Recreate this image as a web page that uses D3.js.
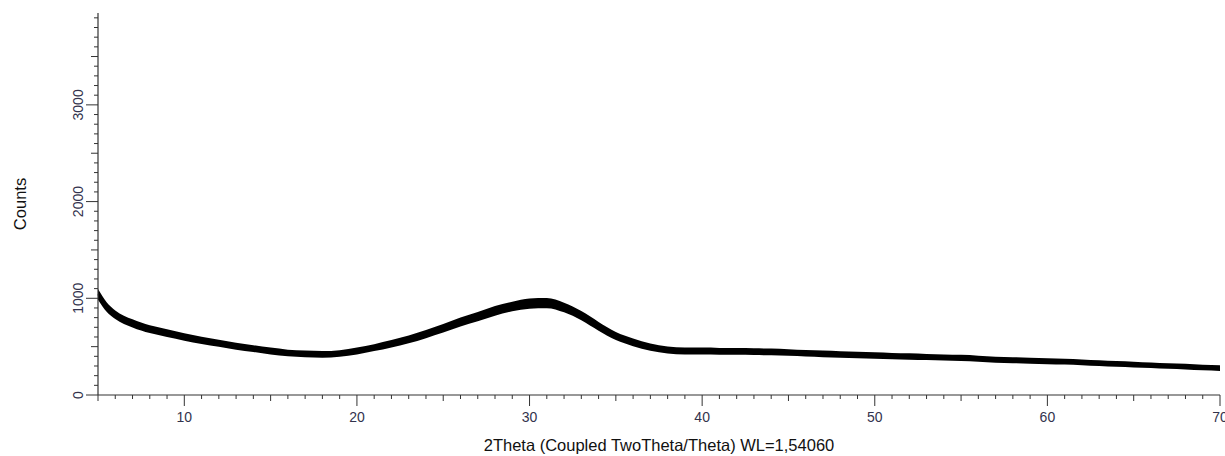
<!DOCTYPE html>
<html lang="en">
<head>
    <meta charset="UTF-8">
    <title>XRD pattern</title>
    <script src="https://d3js.org/d3.v7.min.js"></script>
    <style>
        body {
            margin: 0;
            background: #ffffff;
            font-family: 'Liberation Sans', Arial, sans-serif;
        }
        .tick-label { fill: #33334d; font-size: 14px; }
        .axis-title { fill: #111111; font-size: 16.5px; }
    </style>
</head>
<body>
    <svg id="chart" width="1225" height="456"></svg>

    <script>
        // 2theta positions (degrees)
        const theta = [5, 5.5, 6, 7, 8, 9, 10, 11, 12, 13, 14, 15, 16, 17, 18, 19, 20,
            21, 22, 23, 24, 25, 26, 27, 28, 29, 30, 31, 32, 33, 34, 35, 36, 37, 38, 39, 40,
            41, 42, 43, 44, 45, 46, 47, 48, 49, 50, 51, 52, 53, 54, 55, 56, 57, 58, 59, 60,
            61, 62, 63, 64, 65, 66, 67, 68, 69, 70];

        // mean counts along the trace
        const counts = [1040, 910, 830, 740, 680, 640, 600, 565, 535, 505, 480, 455, 435, 425, 420, 430, 455,
            490, 530, 575, 630, 690, 755, 810, 870, 915, 945, 950, 905, 820, 710, 610, 545, 495, 465, 455, 455,
            452, 450, 448, 445, 440, 432, 425, 418, 413, 408, 402, 398, 393, 388, 383, 375, 365, 360, 355, 350,
            345, 338, 330, 322, 315, 308, 300, 293, 285, 278];

        // half width of the noise band (counts)
        const noise = [55, 50, 45, 42, 40, 40, 38, 38, 36, 36, 35, 35, 34, 34, 34, 34, 35,
            36, 38, 40, 42, 44, 46, 48, 50, 50, 52, 52, 50, 48, 46, 42, 40, 38, 36, 35, 35,
            35, 35, 35, 35, 34, 34, 34, 34, 33, 33, 33, 33, 32, 32, 32, 32, 31, 31, 31, 31,
            30, 30, 30, 30, 30, 29, 29, 29, 29, 29];

        const xMajor = [10, 20, 30, 40, 50, 60, 70];
        const yMajor = [0, 1000, 2000, 3000];

        const svg = d3.select("#chart");

        const x = d3.scaleLinear().domain([5, 70]).range([98, 1220]);
        const y = d3.scaleLinear().domain([0, 3950]).range([395, 13]);

        const data = theta.map((t, i) => ({ t: t, c: counts[i], n: noise[i] }));

        // noise band
        const band = d3.area()
            .x(d => x(d.t))
            .y0(d => y(d.c - d.n))
            .y1(d => y(d.c + d.n))
            .curve(d3.curveMonotoneX);

        svg.append("path")
            .datum(data)
            .attr("d", band)
            .attr("fill", "#000");

        const line = d3.line()
            .x(d => x(d.t))
            .y(d => y(d.c))
            .curve(d3.curveMonotoneX);

        svg.append("path")
            .datum(data)
            .attr("d", line)
            .attr("fill", "none")
            .attr("stroke", "#000")
            .attr("stroke-width", 1.5);

        // x axis
        const xg = svg.append("g");
        xg.append("line")
            .attr("x1", x(5)).attr("x2", x(70))
            .attr("y1", y(0)).attr("y2", y(0))
            .attr("stroke", "#333").attr("stroke-width", 1.2);

        const xTicks = d3.range(5, 71, 1);
        xg.selectAll(".xt")
            .data(xTicks)
            .enter()
            .append("line")
            .attr("x1", d => x(d)).attr("x2", d => x(d))
            .attr("y1", y(0))
            .attr("y2", d => y(0) + (d % 10 === 0 ? 11 : d % 5 === 0 ? 6 : 4))
            .attr("stroke", "#333").attr("stroke-width", 1);

        xg.selectAll(".xl")
            .data(xMajor)
            .enter()
            .append("text")
            .attr("class", "tick-label")
            .attr("x", d => x(d))
            .attr("y", 422)
            .attr("text-anchor", "middle")
            .text(d => d);

        svg.append("text")
            .attr("class", "axis-title")
            .attr("x", (x(5) + x(70)) / 2)
            .attr("y", 451)
            .attr("text-anchor", "middle")
            .text("2Theta (Coupled TwoTheta/Theta) WL=1,54060");

        // y axis
        const yg = svg.append("g");
        yg.append("line")
            .attr("x1", x(5)).attr("x2", x(5))
            .attr("y1", y(0)).attr("y2", y(3950))
            .attr("stroke", "#333").attr("stroke-width", 1.2);

        const yTicks = d3.range(0, 4000, 100);
        yg.selectAll(".yt")
            .data(yTicks)
            .enter()
            .append("line")
            .attr("y1", d => y(d)).attr("y2", d => y(d))
            .attr("x1", x(5))
            .attr("x2", d => x(5) - (d % 1000 === 0 ? 12 : d % 500 === 0 ? 7 : 4))
            .attr("stroke", "#333").attr("stroke-width", 1);

        yg.selectAll(".yl")
            .data(yMajor)
            .enter()
            .append("text")
            .attr("class", "tick-label")
            .attr("transform", d => `translate(83,${y(d)}) rotate(-90)`)
            .attr("text-anchor", "middle")
            .text(d => d);

        svg.append("text")
            .attr("class", "axis-title")
            .attr("transform", `translate(26,${(y(0) + y(3950)) / 2}) rotate(-90)`)
            .attr("text-anchor", "middle")
            .text("Counts");
    </script>
</body>
</html>
